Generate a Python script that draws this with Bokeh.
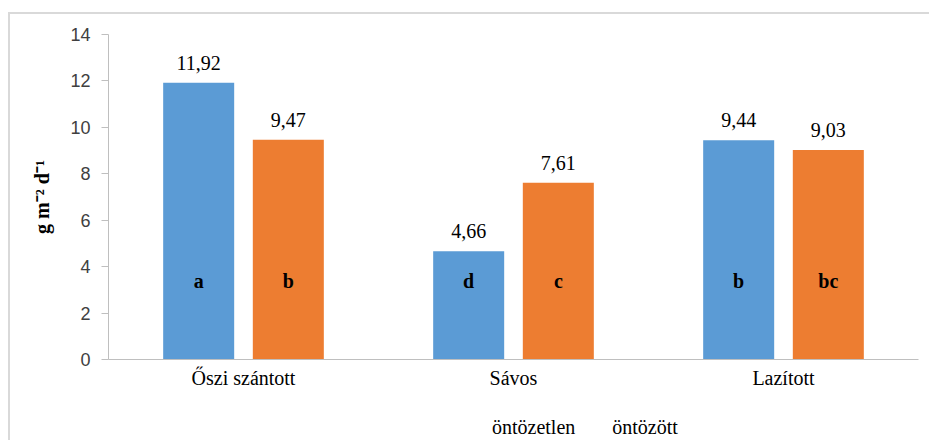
from bokeh.plotting import figure
from bokeh.layouts import column
from bokeh.models import (FactorRange, ColumnDataSource, LabelSet, Legend, LegendItem,
                          FixedTicker)
from bokeh.transform import dodge
from bokeh.embed import file_html
from bokeh.resources import INLINE

categories = ["Őszi szántott", "Sávos", "Lazított"]
ontozetlen = [11.92, 4.66, 9.44]
ontozott = [9.47, 7.61, 9.03]
letters_ontozetlen = ["a", "d", "b"]
letters_ontozott = ["b", "c", "bc"]
series_names = ["öntözetlen", "öntözött"]
y_ticks = [0, 2, 4, 6, 8, 10, 12, 14]

def fmt(v):
    return f"{v:.2f}".replace(".", ",")

src = ColumnDataSource(dict(
    cat=categories,
    v1=ontozetlen, v2=ontozott,
    t1=[fmt(v) for v in ontozetlen], t2=[fmt(v) for v in ontozott],
    l1=letters_ontozetlen, l2=letters_ontozott,
    ly=[3.4] * len(categories),
))

SERIF = "Liberation Serif"
BLUE = "#5B9BD5"
ORANGE = "#ED7D31"

p = figure(x_range=FactorRange(*categories, range_padding=0), y_range=(0, 14),
           frame_width=810, frame_height=325, output_backend="svg", toolbar_location=None,
           min_border_left=100, min_border_right=11, min_border_top=22, min_border_bottom=45,
           border_fill_color=None, outline_line_color=None)

off = 0.166
bw = 0.263
p.vbar(x=dodge("cat", -off, range=p.x_range), top="v1", width=bw, source=src,
       fill_color=BLUE, line_color=None)
p.vbar(x=dodge("cat", off, range=p.x_range), top="v2", width=bw, source=src,
       fill_color=ORANGE, line_color=None)

for xo, tcol in ((-off, "t1"), (off, "t2")):
    p.add_layout(LabelSet(x=dodge("cat", xo, range=p.x_range), y=tcol.replace("t", "v"),
                          text=tcol, source=src, text_align="center", text_baseline="bottom",
                          y_offset=13, text_font=SERIF, text_font_size="20px",
                          text_color="#000000"))
for xo, lcol in ((-off, "l1"), (off, "l2")):
    p.add_layout(LabelSet(x=dodge("cat", xo, range=p.x_range), y="ly",
                          text=lcol, source=src, text_align="center", text_baseline="middle",
                          text_font=SERIF, text_font_size="20px", text_font_style="bold",
                          text_color="#000000"))

p.xgrid.visible = False
p.ygrid.visible = False

p.yaxis.ticker = FixedTicker(ticks=y_ticks)
p.yaxis.axis_line_color = "#bfbfbf"
p.yaxis.major_tick_line_color = "#bfbfbf"
p.yaxis.major_tick_out = 7
p.yaxis.major_tick_in = 0
p.yaxis.minor_tick_line_color = None
p.yaxis.major_label_text_font = "Liberation Sans"
p.yaxis.major_label_text_font_size = "18px"
p.yaxis.major_label_text_color = "#404040"
p.yaxis.major_label_standoff = 11
p.yaxis.axis_label = "g m⁻² d⁻¹"
p.yaxis.axis_label_text_font = SERIF
p.yaxis.axis_label_text_font_style = "bold"
p.yaxis.axis_label_text_font_size = "20px"
p.yaxis.axis_label_text_color = "#000000"
p.yaxis.axis_label_standoff = 14

p.xaxis.axis_line_color = "#bfbfbf"
p.xaxis.major_tick_line_color = None
p.xaxis.minor_tick_line_color = None
p.xaxis.major_tick_out = 0
p.xaxis.major_label_text_font = SERIF
p.xaxis.major_label_text_font_size = "20px"
p.xaxis.major_label_text_color = "#000000"
p.xaxis.major_label_standoff = 7

# legend strip below the chart
lg = figure(width=921, height=36, output_backend="svg", toolbar_location=None,
            x_range=(0, 1), y_range=(0, 1), x_axis_type=None, y_axis_type=None,
            min_border=0, border_fill_color=None, background_fill_color=None,
            outline_line_color=None)
lg.xgrid.visible = False
lg.ygrid.visible = False
k1 = lg.vbar(x=[], top=[], width=0.1, fill_color=BLUE, line_color=None)
k2 = lg.vbar(x=[], top=[], width=0.1, fill_color=ORANGE, line_color=None)
legend = Legend(items=[LegendItem(label=series_names[0], renderers=[k1]),
                       LegendItem(label=series_names[1], renderers=[k2])],
                orientation="horizontal", location=(370, 1),
                glyph_width=8, glyph_height=8, label_standoff=6, spacing=23,
                padding=2, margin=0, border_line_color=None, background_fill_alpha=0,
                label_text_font=SERIF, label_text_font_size="20px", label_text_color="#000000")
lg.add_layout(legend, "center")

layout = column(p, lg, spacing=0)
layout.styles = {"margin-top": "12px", "margin-left": "8px",
                 "box-shadow": "inset 2px 2px 0 0 #d9d9d9"}

open("out.html", "w").write(file_html(layout, INLINE))
